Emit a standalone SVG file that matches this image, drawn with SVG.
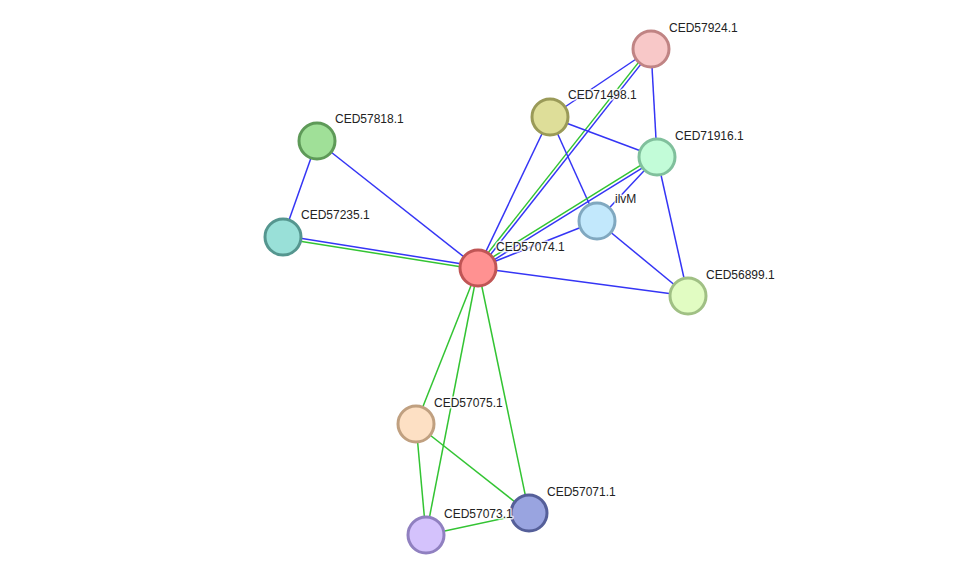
<svg xmlns="http://www.w3.org/2000/svg" width="975" height="581" viewBox="0 0 975 581">
<style>
.b{stroke:#3535f5;stroke-width:1.5;fill:none}
.g{stroke:#33c433;stroke-width:1.5;fill:none}
circle{stroke-width:3}
text{font-family:"Liberation Sans",Arial,sans-serif;font-size:12px;fill:#222;stroke:#fff;stroke-width:3;stroke-opacity:0.8;paint-order:stroke;stroke-linejoin:round}
</style>
<rect width="975" height="581" fill="#fff"/>
<g id="edges">
<line class="b" x1="651" y1="49" x2="550" y2="117"/>
<line class="g" x1="649.8" y1="48.1" x2="476.8" y2="267.1"/>
<line class="b" x1="652.2" y1="49.9" x2="479.2" y2="268.9"/>
<line class="b" x1="651" y1="49" x2="657" y2="157"/>
<line class="b" x1="550" y1="117" x2="478" y2="268"/>
<line class="b" x1="550" y1="117" x2="657" y2="157"/>
<line class="b" x1="550" y1="117" x2="597" y2="221"/>
<line class="g" x1="656.2" y1="155.7" x2="477.2" y2="266.7"/>
<line class="b" x1="657.8" y1="158.3" x2="478.8" y2="269.3"/>
<line class="b" x1="657" y1="157" x2="597" y2="221"/>
<line class="b" x1="657" y1="157" x2="688" y2="296"/>
<line class="b" x1="597" y1="221" x2="478" y2="268"/>
<line class="b" x1="597" y1="221" x2="688" y2="296"/>
<line class="b" x1="478" y1="268" x2="688" y2="296"/>
<line class="b" x1="317" y1="141" x2="283" y2="237"/>
<line class="b" x1="317" y1="141" x2="478" y2="268"/>
<line class="b" x1="283.2" y1="235.5" x2="478.2" y2="266.5"/>
<line class="g" x1="282.8" y1="238.5" x2="477.8" y2="269.5"/>
<line class="g" x1="478" y1="268" x2="416" y2="424"/>
<line class="g" x1="478" y1="268" x2="426" y2="535"/>
<line class="g" x1="478" y1="268" x2="529" y2="513"/>
<line class="g" x1="416" y1="424" x2="426" y2="535"/>
<line class="g" x1="416" y1="424" x2="529" y2="513"/>
<line class="g" x1="426" y1="535" x2="529" y2="513"/>
</g>
<g id="CED57924.1"><circle cx="651" cy="49" r="18" fill="#f8c8c8" stroke="#c08484"/><text x="669" y="32">CED57924.1</text></g>
<g id="CED71498.1"><circle cx="550" cy="117" r="18" fill="#dede99" stroke="#9a9a58"/><text x="568" y="99">CED71498.1</text></g>
<g id="CED71916.1"><circle cx="657" cy="157" r="18" fill="#c2fcd8" stroke="#80c09c"/><text x="675" y="140">CED71916.1</text></g>
<g id="ilvM"><circle cx="597" cy="221" r="18" fill="#c2e8fc" stroke="#80a8c0"/><text x="615" y="203">ilvM</text></g>
<g id="CED56899.1"><circle cx="688" cy="296" r="18" fill="#e1fcc2" stroke="#a0c084"/><text x="706" y="279">CED56899.1</text></g>
<g id="CED57818.1"><circle cx="317" cy="141" r="18" fill="#a0e098" stroke="#5e9a58"/><text x="335" y="123">CED57818.1</text></g>
<g id="CED57235.1"><circle cx="283" cy="237" r="18" fill="#99e0d8" stroke="#55968f"/><text x="301" y="219">CED57235.1</text></g>
<g id="CED57074.1"><circle cx="478" cy="268" r="18" fill="#ff9191" stroke="#c05555"/><text x="496" y="251">CED57074.1</text></g>
<g id="CED57075.1"><circle cx="416" cy="424" r="18" fill="#fde0c4" stroke="#c0a080"/><text x="434" y="407">CED57075.1</text></g>
<g id="CED57071.1"><circle cx="529" cy="513" r="18" fill="#99a4e0" stroke="#555f99"/><text x="547" y="496">CED57071.1</text></g>
<g id="CED57073.1"><circle cx="426" cy="535" r="18" fill="#d4c2fc" stroke="#9080c0"/><text x="444" y="518">CED57073.1</text></g>
</svg>
